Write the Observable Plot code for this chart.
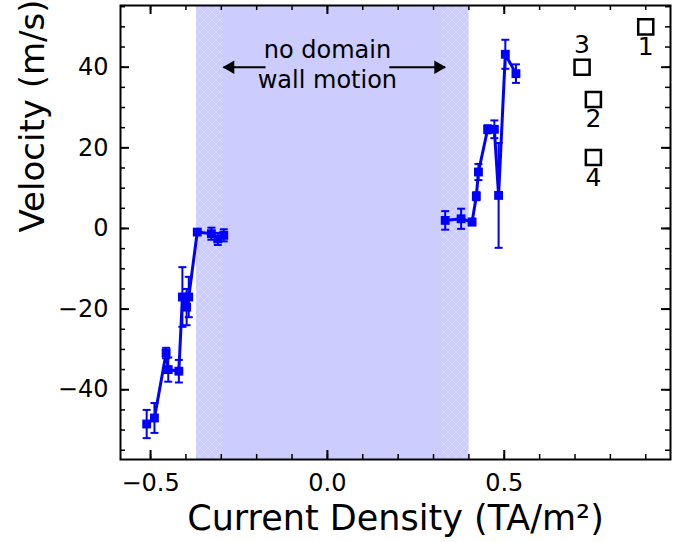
<!DOCTYPE html>
<html><head><meta charset="utf-8">
<script src="https://cdn.jsdelivr.net/npm/d3@7"></script>
<script src="https://cdn.jsdelivr.net/npm/@observablehq/plot@0.6"></script>
<style>body{margin:0;background:#fff} #chart svg{display:block}</style>
</head><body><div id="chart"></div>
<script>
// negative-current branch
const leftX   = [-0.511,-0.489,-0.456,-0.450,-0.420,-0.410,-0.398,-0.392,-0.368,-0.328,-0.310,-0.293];
const leftY   = [-48.5,-47.0,-30.9,-35.0,-35.4,-17.0,-19.5,-17.0,-0.9,-1.3,-2.6,-1.7];
const leftErr = [3.5,3.7,1.3,3.0,2.8,7.4,4.5,5.0,0.5,1.5,1.5,1.5];
// positive-current branch
const rightX   = [0.333,0.378,0.409,0.421,0.427,0.453,0.472,0.484,0.503,0.533];
const rightY   = [2.0,2.4,1.6,8.0,14.0,24.6,24.6,8.2,43.2,38.4];
const rightErr = [2.3,2.5,0.8,1.0,2.0,1.0,2.2,13.0,3.6,2.3];
// open squares with numbers
const openX = [0.90,0.752,0.72,0.752];
const openY = [50,32,40,17.6];
const openLabel = ["1","2","3","4"];
const openAbove = [false,false,true,false];
// shaded "no domain wall motion" band and its hatched edges
const shade = [-0.37, 0.40];
const hatchEdges = [[-0.37,-0.294],[0.322,0.40]];
const arrowFrom = [-0.175, 0.175];
const arrowTo = [-0.294, 0.333];
const arrowY = 40;
const noteLines = ["no domain","wall motion"];
const noteY = [44.2, 36.7];
// ticks
const xMajor = [-0.5, 0.0, 0.5];
const xMinor = [-0.5,-0.4,-0.3,-0.2,-0.1,0,0.1,0.2,0.3,0.4,0.5,0.6,0.7,0.8,0.9];
const yMajor = [-40,-20,0,20,40];
const yMinor = [-55,-50,-45,-40,-35,-30,-25,-20,-15,-10,-5,0,5,10,15,20,25,30,35,40,45,50,55];
const xDomain = [-0.585, 0.97];
const yDomain = [-57.3, 55.3];
const xTitle = "Current Density (TA/m²)";
const yTitle = "Velocity (m/s)";

const blue = "#0000ff";
const mk = (xs, ys, es, b) => xs.map((x,i)=>({x, y: ys[i], e: es[i], b}));
const pts = [...mk(leftX,leftY,leftErr,"L"), ...mk(rightX,rightY,rightErr,"R")];
const opens = openX.map((x,i)=>({x, y: openY[i], t: openLabel[i], above: openAbove[i]}));
const arrows = arrowFrom.map((f,i)=>({x1: f, x2: arrowTo[i], y: arrowY, dir: i===0 ? -1 : 1}));

const mL = 120, mR = 10, mT = 5, mB = 83, W = 680, H = 542;
const pw = W - mL - mR, ph = H - mT - mB;
const cap = {draw(ctx, size){ const r = Math.sqrt(size/Math.PI); ctx.moveTo(-r,0); ctx.lineTo(r,0); }};
const fmtX = d3.format(".1f"), fmtY = d3.format("d");

const chart = Plot.plot({
  width: W, height: H,
  marginLeft: mL, marginRight: mR, marginTop: mT, marginBottom: mB,
  style: {fontFamily: "DejaVu Sans", background: "#fff", color: "#000"},
  x: {domain: xDomain},
  y: {domain: yDomain},
  marks: [
    Plot.rect([shade], {x1: d=>d[0], x2: d=>d[1], fill: "#ccccff"}),
    Plot.rect(hatchEdges, {x1: d=>d[0], x2: d=>d[1], fill: "url(#hatch)"}),
    // ticks, inward on all sides
    Plot.tickX(xMinor, {x: d=>d, insetTop: ph-5, strokeWidth: 1.5}),
    Plot.tickX(xMinor, {x: d=>d, insetBottom: ph-5, strokeWidth: 1.5}),
    Plot.tickX(xMajor, {x: d=>d, insetTop: ph-9, strokeWidth: 2}),
    Plot.tickX(xMajor, {x: d=>d, insetBottom: ph-9, strokeWidth: 2}),
    Plot.tickY(yMinor, {y: d=>d, insetRight: pw-5, strokeWidth: 1.5}),
    Plot.tickY(yMinor, {y: d=>d, insetLeft: pw-5, strokeWidth: 1.5}),
    Plot.tickY(yMajor, {y: d=>d, insetRight: pw-9, strokeWidth: 2}),
    Plot.tickY(yMajor, {y: d=>d, insetLeft: pw-9, strokeWidth: 2}),
    Plot.axisX({ticks: xMajor, tickSize: 0, tickPadding: 14, fontSize: 24, tickFormat: fmtX, label: null}),
    Plot.axisY({ticks: yMajor, tickSize: 0, tickPadding: 12, fontSize: 24, tickFormat: fmtY, label: null}),
    Plot.frame({stroke: "#000", strokeWidth: 2}),
    // annotation
    Plot.link(arrows, {x1: "x1", x2: "x2", y1: "y", y2: "y", stroke: "#000", strokeWidth: 2}),
    Plot.dot(arrows.filter(a=>a.dir<0), {x: "x2", y: "y", symbol: "triangle", r: 5, fill: "#000", rotate: -90, dx: 7}),
    Plot.dot(arrows.filter(a=>a.dir>0), {x: "x2", y: "y", symbol: "triangle", r: 5, fill: "#000", rotate: 90, dx: -7}),
    Plot.text(noteLines, {x: 0, y: (d,i)=>noteY[i], text: d=>d, fontSize: 24, fill: "#000"}),
    // data
    Plot.ruleX(pts, {x: "x", y1: d=>d.y-d.e, y2: d=>d.y+d.e, stroke: blue, strokeWidth: 2}),
    Plot.dot(pts, {x: "x", y: d=>d.y-d.e, symbol: cap, r: 4, stroke: blue, strokeWidth: 2}),
    Plot.dot(pts, {x: "x", y: d=>d.y+d.e, symbol: cap, r: 4, stroke: blue, strokeWidth: 2}),
    Plot.line(pts, {x: "x", y: "y", z: "b", stroke: blue, strokeWidth: 3}),
    Plot.dot(pts, {x: "x", y: "y", symbol: "square", r: 5, fill: blue, stroke: "none"}),
    Plot.dot(opens, {x: "x", y: "y", symbol: "square", r: 8.5, fill: "none", stroke: "#000", strokeWidth: 2.5}),
    Plot.text(opens.filter(o=>!o.above), {x: "x", y: "y", text: "t", dy: 20, fontSize: 25, fill: "#000"}),
    Plot.text(opens.filter(o=>o.above), {x: "x", y: "y", text: "t", dy: -22, fontSize: 25, fill: "#000"}),
    // titles
    Plot.text([xTitle], {frameAnchor: "bottom", dy: 70, text: d=>d, fontSize: 35, fill: "#000"}),
    Plot.text([yTitle], {frameAnchor: "left", dx: -87, rotate: -90, text: d=>d, fontSize: 34, fill: "#000"})
  ]
});
const s = d3.select(chart);
const defs = s.insert("defs", ":first-child");
const pat = defs.append("pattern").attr("id","hatch").attr("patternUnits","userSpaceOnUse").attr("width",8).attr("height",8);
pat.append("rect").attr("width",8).attr("height",8).attr("fill","#ccccfe");
pat.append("path").attr("d","M0,0L8,8M8,0L0,8").attr("stroke","#ffffff").attr("stroke-opacity",0.25).attr("stroke-width",1);
document.getElementById("chart").appendChild(chart);
</script>
</body></html>
